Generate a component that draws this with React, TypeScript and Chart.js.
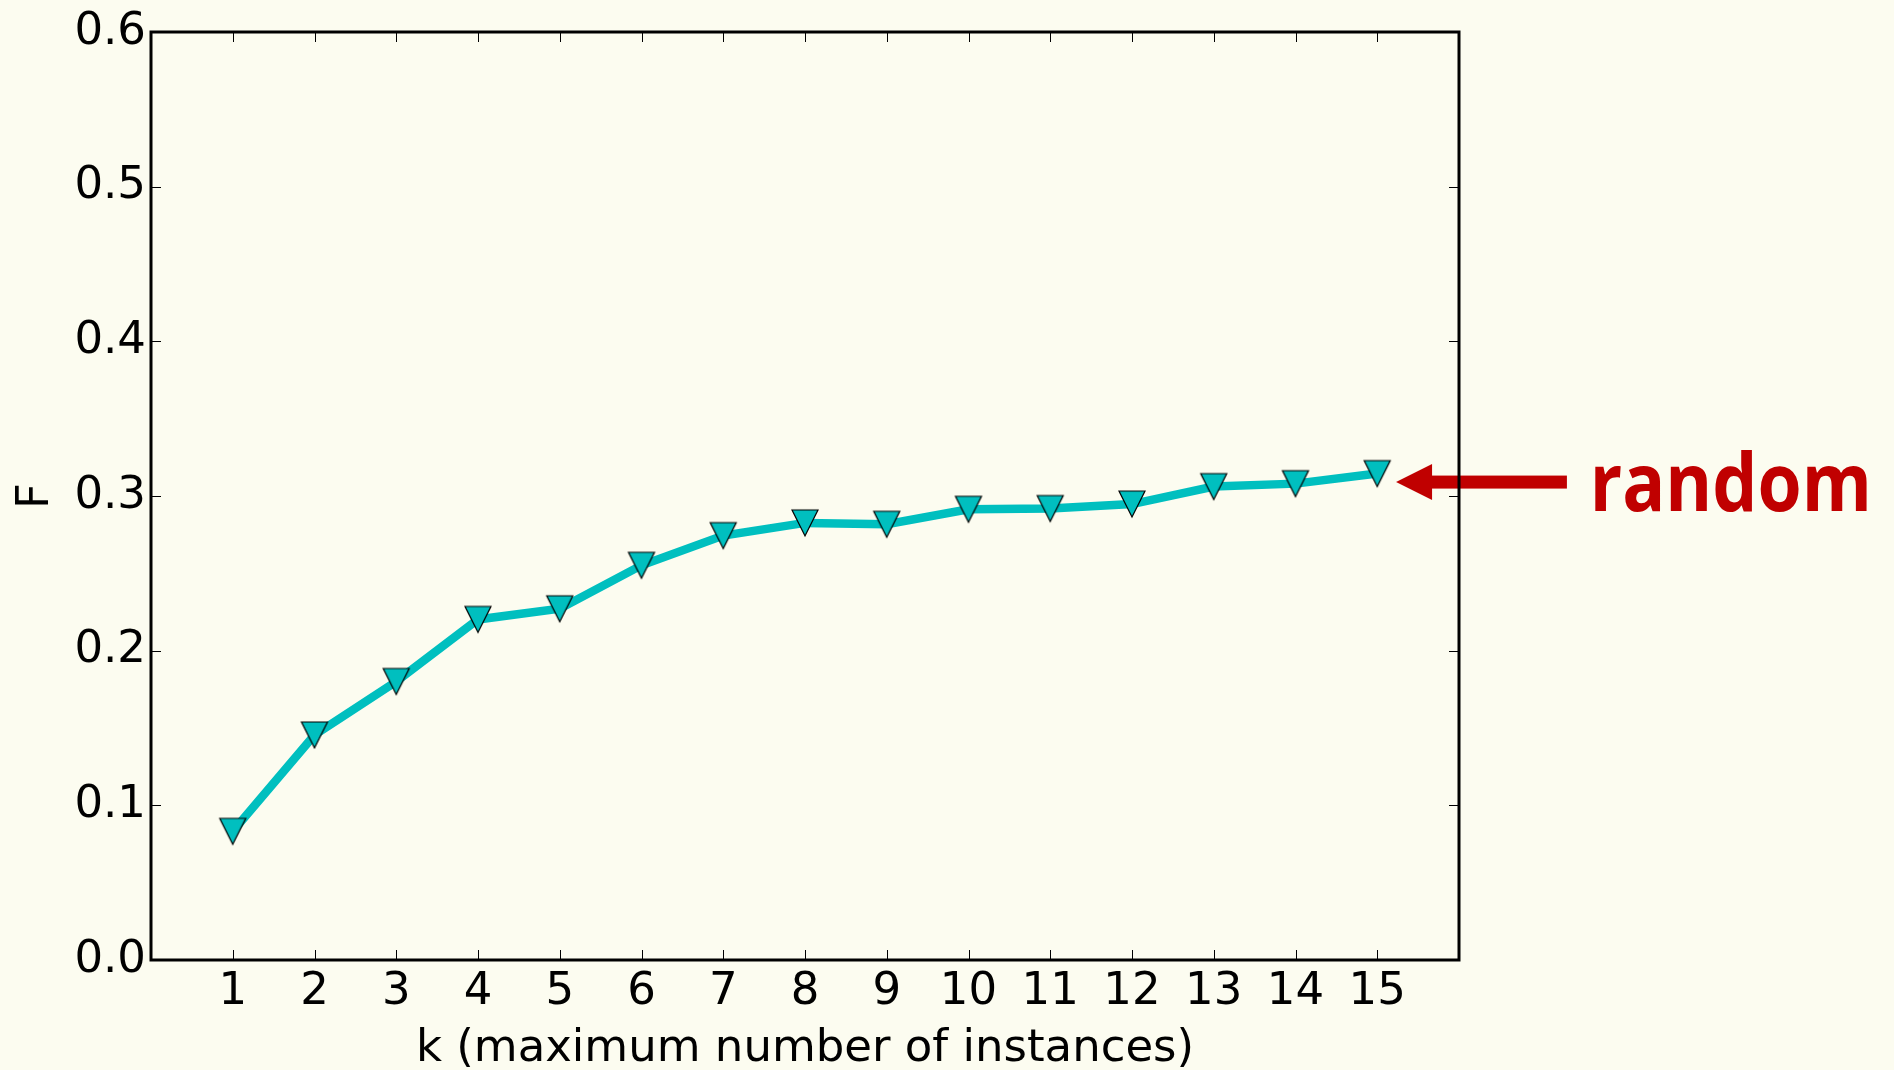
import React, { useEffect, useRef } from 'react';
import { Chart, registerables } from 'chart.js';

Chart.register(...registerables);

// ---- data ----
const kValues = [1, 2, 3, 4, 5, 6, 7, 8, 9, 10, 11, 12, 13, 14, 15];
const fValues = [0.0832, 0.1455, 0.1801, 0.2202, 0.2271, 0.2552, 0.2744, 0.2826, 0.2817, 0.2914, 0.2919, 0.2948, 0.3061, 0.308, 0.3145];
const xTickValues = [1, 2, 3, 4, 5, 6, 7, 8, 9, 10, 11, 12, 13, 14, 15];
const yTickValues = [0, 0.1, 0.2, 0.3, 0.4, 0.5, 0.6];
const xTitle = 'k (maximum number of instances)';
const yTitle = 'F';
const annotationText = 'random';
// annotation anchors in data units
const arrowTip = { x: 15.23, y: 0.309 };
const arrowTailX = 17.32;
const textAnchor = { x: 17.6, y: 0.2903 };

const BG = '#fcfcf0';
const LINE = '#00bfbf';
const RED = '#c00000';
const FONT = "'DejaVu Sans', sans-serif";

function makeTriangle(): HTMLCanvasElement {
  const c = document.createElement('canvas');
  c.width = 30;
  c.height = 30;
  const g = c.getContext('2d')!;
  g.beginPath();
  g.moveTo(2, 2);
  g.lineTo(28, 2);
  g.lineTo(15, 28);
  g.closePath();
  g.fillStyle = LINE;
  g.fill();
  g.lineWidth = 1.2;
  g.strokeStyle = '#000';
  g.lineJoin = 'miter';
  g.stroke();
  return c;
}

const framePlugin = {
  id: 'frameTicks',
  afterDatasetsDraw(chart: any) {
    const { ctx, chartArea: a, scales } = chart;
    const xs = scales.x;
    const ys = scales.y;
    ctx.save();
    // arrow annotation
    const tipX = xs.getPixelForValue(arrowTip.x);
    const tipY = ys.getPixelForValue(arrowTip.y);
    const tailX = xs.getPixelForValue(arrowTailX);
    const headLen = 36;
    const headHalf = 18;
    const shaft = 13;
    ctx.fillStyle = RED;
    ctx.fillRect(tipX + headLen - 1, tipY - shaft / 2, tailX - (tipX + headLen - 1), shaft);
    ctx.beginPath();
    ctx.moveTo(tipX, tipY);
    ctx.lineTo(tipX + headLen, tipY - headHalf);
    ctx.lineTo(tipX + headLen, tipY + headHalf);
    ctx.closePath();
    ctx.fill();
    ctx.font = "bold 81px 'Open Sans', 'Noto Sans', sans-serif";
    ctx.textAlign = 'left';
    ctx.textBaseline = 'alphabetic';
    ctx.fillText(annotationText, xs.getPixelForValue(textAnchor.x), ys.getPixelForValue(textAnchor.y), 282);

    // inward ticks
    ctx.strokeStyle = '#000';
    ctx.lineWidth = 1;
    const tl = 10;
    ctx.beginPath();
    xs.ticks.forEach((t: any) => {
      const px = Math.round(xs.getPixelForValue(t.value)) + 0.5;
      ctx.moveTo(px, a.bottom);
      ctx.lineTo(px, a.bottom - tl);
      ctx.moveTo(px, a.top);
      ctx.lineTo(px, a.top + tl);
    });
    ys.ticks.forEach((t: any) => {
      const py = Math.round(ys.getPixelForValue(t.value)) + 0.5;
      ctx.moveTo(a.left, py);
      ctx.lineTo(a.left + tl, py);
      ctx.moveTo(a.right, py);
      ctx.lineTo(a.right - tl, py);
    });
    ctx.stroke();
    // frame
    ctx.lineWidth = 3;
    ctx.strokeRect(a.left, a.top, a.right - a.left, a.bottom - a.top);
    ctx.restore();
  },
};

export default function App() {
  const ref = useRef<HTMLCanvasElement | null>(null);

  useEffect(() => {
    document.body.style.margin = '0';
    document.body.style.background = BG;
    const canvas = ref.current!;
    const tri = makeTriangle();
    const chart = new Chart(canvas, {
      type: 'line',
      data: {
        datasets: [
          {
            label: 'random',
            data: kValues.map((k, i) => ({ x: k, y: fValues[i] })),
            borderColor: LINE,
            backgroundColor: LINE,
            borderWidth: 8.5,
            tension: 0,
            pointStyle: tri as any,
            pointRadius: 13,
            pointHoverRadius: 13,
            fill: false,
          },
        ],
      },
      options: {
        animation: false,
        responsive: false,
        devicePixelRatio: 1,
        events: [],
        layout: { padding: { left: 0, top: 30, right: 435, bottom: 0 } },
        plugins: { legend: { display: false }, tooltip: { enabled: false } },
        scales: {
          x: {
            type: 'linear',
            min: 0,
            max: 16,
            afterBuildTicks: (s: any) => {
              s.ticks = xTickValues.map((v) => ({ value: v }));
            },
            afterFit: (s: any) => {
              s.height = 110;
            },
            grid: { display: false, drawTicks: false },
            border: { display: false },
            ticks: {
              autoSkip: false,
              maxRotation: 0,
              minRotation: 0,
              padding: 5,
              color: '#000',
              font: { family: FONT, size: 45 },
              callback: (v: any) => String(v),
            },
            title: {
              display: true,
              text: xTitle,
              color: '#000',
              font: { family: FONT, size: 45 },
              padding: { top: 0, bottom: -6 },
            },
          },
          y: {
            type: 'linear',
            min: 0,
            max: 0.6,
            afterBuildTicks: (s: any) => {
              s.ticks = yTickValues.map((v) => ({ value: v }));
            },
            afterFit: (s: any) => {
              s.width = 151;
            },
            grid: { display: false, drawTicks: false },
            border: { display: false },
            ticks: {
              padding: 5,
              color: '#000',
              font: { family: FONT, size: 45 },
              callback: (v: any) => Number(v).toFixed(1),
            },
            title: {
              display: true,
              text: yTitle,
              color: '#000',
              font: { family: FONT, size: 45 },
              padding: { top: 9, bottom: 0 },
            },
          },
        },
      },
      plugins: [framePlugin],
    } as any);
    return () => chart.destroy();
  }, []);

  return (
    <div style={{ position: 'fixed', left: 0, top: 0, width: 1894, height: 1070, background: BG }}>
      <canvas ref={ref} width={1894} height={1070} style={{ display: 'block', width: 1894, height: 1070 }} />
    </div>
  );
}
